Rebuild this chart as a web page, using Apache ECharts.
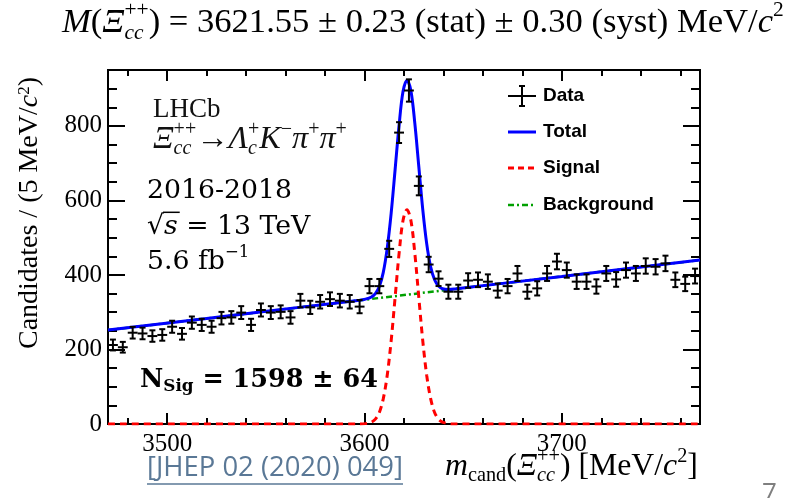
<!DOCTYPE html>
<html>
<head>
<meta charset="utf-8">
<script src="https://cdn.jsdelivr.net/npm/echarts@6/dist/echarts.min.js"></script>
<style>
html, body { margin: 0; padding: 0; background: #fff; }
#main { width: 786px; height: 498px; }
</style>
</head>
<body>
<div id="main"></div>
<script>
// 5 MeV bins, candidates per bin
var binCenters = [
    3472.5, 3477.5, 3482.5, 3487.5, 3492.5, 3497.5, 3502.5, 3507.5, 3512.5, 3517.5,
    3522.5, 3527.5, 3532.5, 3537.5, 3542.5, 3547.5, 3552.5, 3557.5, 3562.5, 3567.5,
    3572.5, 3577.5, 3582.5, 3587.5, 3592.5, 3597.5, 3602.5, 3607.5, 3612.5, 3617.5,
    3622.5, 3627.5, 3632.5, 3637.5, 3642.5, 3647.5, 3652.5, 3657.5, 3662.5, 3667.5,
    3672.5, 3677.5, 3682.5, 3687.5, 3692.5, 3697.5, 3702.5, 3707.5, 3712.5, 3717.5,
    3722.5, 3727.5, 3732.5, 3737.5, 3742.5, 3747.5, 3752.5, 3757.5, 3762.5, 3767.5
];
var counts = [
    212, 206, 245, 243, 236, 239, 261, 242, 272, 266,
    261, 284, 286, 299, 266, 306, 299, 301, 286, 331,
    313, 328, 335, 331, 328, 315, 370, 370, 470, 782,
    895, 639, 428, 390, 355, 355, 385, 387, 382, 358,
    370, 404, 355, 364, 404, 436, 413, 382, 382, 369,
    404, 388, 413, 404, 424, 422, 431, 387, 376, 397
];

// fit curves
var totalX = [3470, 3520, 3570, 3597.5, 3600.5, 3603.5, 3605.5, 3607.5, 3609.5, 3611.5, 3613.5, 3615.5, 3617.5,
    3619.5, 3621.5, 3623.5, 3625.5, 3627.5, 3629.5, 3631.5, 3633.5, 3635.5, 3637.5, 3639.5, 3642.5, 3646.5, 3700, 3770];
var totalY = [252, 283, 315, 332, 335, 341, 350, 369, 407, 472, 566, 683, 801,
    892, 922, 894, 806, 691, 576, 484, 422, 387, 370, 363, 361, 363, 396, 440];
var signalX = [3470, 3597.5, 3600.5, 3603.5, 3605.5, 3607.5, 3609.5, 3611.5, 3613.5, 3615.5, 3617.5, 3619.5,
    3621.5, 3623.5, 3625.5, 3627.5, 3629.5, 3631.5, 3633.5, 3635.5, 3637.5, 3639.5, 3642.5, 3645.5, 3770];
var signalY = [0, 0, 1, 5, 13, 31, 68, 131, 224, 340, 457, 546,
    575, 546, 457, 340, 224, 131, 68, 31, 13, 5, 1, 0, 0];
var bkgX = [3470, 3770];
var bkgY = [252, 440];

// ticks
var xMajor = [3500, 3600, 3700];
var xMinor = [3480, 3520, 3540, 3560, 3580, 3620, 3640, 3660, 3680, 3720, 3740, 3760];
var yMajor = [0, 200, 400, 600, 800];
var yMinor = [50, 100, 150, 250, 300, 350, 450, 500, 550, 650, 700, 750, 850, 900];

var SERIF = '"Liberation Serif", "Times New Roman", serif';
var CAMB = '"DejaVu Serif", serif';
var SANS = '"Liberation Sans", Arial, sans-serif';

function zip(a, b) {
    return a.map(function (v, i) { return [v, b[i]]; });
}

// text measuring for the hand-set labels
var mctx = document.createElement('canvas').getContext('2d');
function tw(t, font) { mctx.font = font; return mctx.measureText(t).width; }
function fnt(style, size, fam) { return (style ? style + ' ' : '') + size + 'px ' + fam; }

function txt(x, y, t, font, color) {
    return { type: 'text', x: x, y: y, z: 20,
        style: { text: t, font: font, fill: color || '#000', align: 'left', verticalAlign: 'middle' } };
}
function rowWidth(parts) {
    var w = 0;
    parts.forEach(function (p) {
        if (p.t != null) w += tw(p.t, p.font);
        else w += Math.max(p.sup ? tw(p.sup, p.font) : 0, p.sub ? tw(p.sub, p.subFont || p.font) : 0);
    });
    return w;
}
function row(x, y, parts, color, out) {
    parts.forEach(function (p) {
        if (p.t != null) {
            out.push(txt(x, y + (p.dy || 0), p.t, p.font, color));
            x += tw(p.t, p.font);
        } else {
            var w = 0;
            if (p.sup) { out.push(txt(x, y + p.up, p.sup, p.font, color)); w = Math.max(w, tw(p.sup, p.font)); }
            if (p.sub) { out.push(txt(x, y + p.dn, p.sub, p.subFont || p.font, color)); w = Math.max(w, tw(p.sub, p.subFont || p.font)); }
            x += w;
        }
    });
    return x;
}
function fitSize(mk, target) {
    var w = rowWidth(mk(20));
    return 20 * target / w;
}

// title
function titleParts(s) {
    var sc = s * 0.62;
    return [
        { t: 'M', font: fnt('italic', s, SERIF) },
        { t: '(', font: fnt('', s, SERIF) },
        { t: 'Ξ', font: fnt('italic', s, SERIF) },
        { sup: '++', font: fnt('', sc, SERIF), up: -0.36 * s, sub: 'cc', subFont: fnt('italic', sc, SERIF), dn: 0.3 * s },
        { t: ') = 3621.55 ± 0.23 (stat) ± 0.30 (syst) MeV/', font: fnt('', s, SERIF) },
        { t: 'c', font: fnt('italic', s, SERIF) },
        { sup: '2', font: fnt('', sc, SERIF), up: -0.36 * s }
    ];
}
// decay
function decayParts(s) {
    var sc = s * 0.62;
    var sup = fnt('', sc, SERIF), sub = fnt('italic', sc, SERIF);
    return [
        { t: 'Ξ', font: fnt('italic', s, SERIF) },
        { sup: '++', font: sup, up: -0.33 * s, sub: 'cc', subFont: sub, dn: 0.28 * s },
        { t: '→', font: fnt('', s, SERIF) },
        { t: 'Λ', font: fnt('italic', s, SERIF) },
        { sup: '+', font: sup, up: -0.33 * s, sub: 'c', subFont: sub, dn: 0.28 * s },
        { t: 'K', font: fnt('italic', s, SERIF) },
        { sup: '−', font: sup, up: -0.33 * s },
        { t: 'π', font: fnt('italic', s, SERIF) },
        { sup: '+', font: sup, up: -0.33 * s },
        { t: 'π', font: fnt('italic', s, SERIF) },
        { sup: '+', font: sup, up: -0.33 * s }
    ];
}
function nsigParts(s) {
    return [
        { t: 'N', font: fnt('bold', s, CAMB) },
        { sub: 'Sig', subFont: fnt('bold', s * 0.66, CAMB), dn: 0.25 * s },
        { t: ' = 1598 ± 64', font: fnt('bold', s, CAMB) }
    ];
}
function xNameParts(s) {
    var sc = s * 0.64;
    return [
        { t: 'm', font: fnt('italic', s, SERIF) },
        { sub: 'cand', subFont: fnt('', sc, SERIF), dn: 0.26 * s },
        { t: '(', font: fnt('', s, SERIF) },
        { t: 'Ξ', font: fnt('italic', s, SERIF) },
        { sup: '++', font: fnt('', sc, SERIF), up: -0.34 * s, sub: 'cc', subFont: fnt('italic', sc, SERIF), dn: 0.28 * s },
        { t: ') [MeV/', font: fnt('', s, SERIF) },
        { t: 'c', font: fnt('italic', s, SERIF) },
        { sup: '2', font: fnt('', sc, SERIF), up: -0.34 * s },
        { t: ']', font: fnt('', s, SERIF) }
    ];
}

var g = [];
var ts = fitSize(titleParts, 722);
row(62, 23, titleParts(ts), '#000', g);

g.push(txt(153, 110, 'LHCb', fnt('', 27, SERIF), '#111'));
var ds = fitSize(decayParts, 194);
row(153, 140, decayParts(ds), '#111', g);

var bs = 20 * 145 / tw('2016-2018', fnt('', 20, CAMB));
g.push(txt(147, 191, '2016-2018', fnt('', bs, CAMB)));
var rx = row(147, 227, [{ t: '√', font: fnt('', bs, CAMB) }], '#000', g);
var sw = tw('s', fnt('italic', bs, CAMB));
g.push({ type: 'line', z: 20, shape: { x1: rx - 1, y1: 227 - bs * 0.55, x2: rx + sw + 2, y2: 227 - bs * 0.55 }, style: { stroke: '#000', lineWidth: 1.5 } });
row(rx, 227, [{ t: 's', font: fnt('italic', bs, CAMB) }, { t: ' = 13 TeV', font: fnt('', bs, CAMB) }], '#000', g);
row(147, 262, [{ t: '5.6 fb', font: fnt('', bs, CAMB) }, { sup: '−1', font: fnt('', bs * 0.62, CAMB), up: -0.36 * bs }], '#000', g);

var ns = fitSize(nsigParts, 238);
row(140, 380, nsigParts(ns), '#000', g);

var xs = fitSize(xNameParts, 253);
row(445, 467, xNameParts(xs), '#000', g);

// y axis title
g.push({
    type: 'text', x: 30, y: 213, rotation: Math.PI / 2, z: 20,
    style: {
        text: 'Candidates / (5 MeV/{i|c}{s|2})',
        fontSize: 28, fontFamily: SERIF, fill: '#000', align: 'center', verticalAlign: 'middle',
        rich: {
            i: { fontSize: 28, fontFamily: SERIF, fontStyle: 'italic' },
            s: { fontSize: 17, fontFamily: SERIF, verticalAlign: 'top', lineHeight: 17 }
        }
    }
});

// legend
var LX1 = 508, LX2 = 536;
g.push({ type: 'line', z: 20, shape: { x1: LX1, y1: 96, x2: LX2, y2: 96 }, style: { stroke: '#000', lineWidth: 2 } });
g.push({ type: 'line', z: 20, shape: { x1: 522, y1: 86, x2: 522, y2: 106 }, style: { stroke: '#000', lineWidth: 2 } });
g.push({ type: 'line', z: 20, shape: { x1: 519, y1: 86, x2: 525, y2: 86 }, style: { stroke: '#000', lineWidth: 2 } });
g.push({ type: 'line', z: 20, shape: { x1: 519, y1: 106, x2: 525, y2: 106 }, style: { stroke: '#000', lineWidth: 2 } });
g.push({ type: 'line', z: 20, shape: { x1: LX1, y1: 132, x2: LX2, y2: 132 }, style: { stroke: '#0000ff', lineWidth: 3 } });
g.push({ type: 'line', z: 20, shape: { x1: LX1, y1: 168, x2: LX2, y2: 168 }, style: { stroke: '#ff0000', lineWidth: 3, lineDash: [6, 4] } });
g.push({ type: 'line', z: 20, shape: { x1: LX1, y1: 205, x2: LX2, y2: 205 }, style: { stroke: '#00a000', lineWidth: 2.5, lineDash: [6, 3, 2, 3] } });
var legNames = ['Data', 'Total', 'Signal', 'Background'];
var legY = [96, 132, 168, 205];
legNames.forEach(function (n, i) { g.push(txt(543, legY[i], n, fnt('bold', 19, SANS))); });

// reference link and page number
var jf = '"Open Sans", "Noto Sans", sans-serif';
var js = 20 * 256 / tw('[JHEP 02 (2020) 049]', fnt('', 20, jf));
g.push(txt(147, 468, '[JHEP 02 (2020) 049]', fnt('', js, jf), '#5a7896'));
g.push({ type: 'line', z: 20, shape: { x1: 147, y1: 484, x2: 403, y2: 484 }, style: { stroke: '#5a7896', lineWidth: 1.5 } });
g.push(txt(762, 494, '7', fnt('', 26, '"Open Sans", sans-serif'), '#7f7f7f'));

function plain(v) { return String(v); }

function xAxisCfg(pos, ticks, len, withLabel) {
    return {
        type: 'value', position: pos, min: 3470, max: 3770,
        axisLine: { show: true, onZero: false, lineStyle: { color: '#000', width: 2 } },
        axisTick: { show: true, inside: true, length: len, customValues: ticks, lineStyle: { color: '#000', width: 2 } },
        axisLabel: withLabel
            ? { show: true, customValues: ticks, formatter: plain, color: '#000', fontFamily: SERIF, fontSize: 25, margin: 8 }
            : { show: false },
        splitLine: { show: false }
    };
}
function yAxisCfg(pos, ticks, len, withLabel) {
    return {
        type: 'value', position: pos, min: 0, max: 950,
        axisLine: { show: true, onZero: false, lineStyle: { color: '#000', width: 2 } },
        axisTick: { show: true, inside: true, length: len, customValues: ticks, lineStyle: { color: '#000', width: 2 } },
        axisLabel: withLabel
            ? { show: true, customValues: ticks, formatter: plain, color: '#000', fontFamily: SERIF, fontSize: 25, margin: 6 }
            : { show: false },
        splitLine: { show: false }
    };
}

function renderErr(params, api) {
    var x = api.value(0), y = api.value(1), e = api.value(2);
    var c = api.coord([x, y]);
    var lo = api.coord([x, y - e]);
    var hi = api.coord([x, y + e]);
    var l = api.coord([x - 2.5, y]);
    var r = api.coord([x + 2.5, y]);
    var st = { stroke: '#000', lineWidth: 2 };
    return {
        type: 'group',
        children: [
            { type: 'line', shape: { x1: l[0], y1: c[1], x2: r[0], y2: c[1] }, style: st },
            { type: 'line', shape: { x1: c[0], y1: lo[1], x2: c[0], y2: hi[1] }, style: st },
            { type: 'line', shape: { x1: c[0] - 3, y1: lo[1], x2: c[0] + 3, y2: lo[1] }, style: st },
            { type: 'line', shape: { x1: c[0] - 3, y1: hi[1], x2: c[0] + 3, y2: hi[1] }, style: st }
        ]
    };
}

var errData = binCenters.map(function (m, i) { return [m, counts[i], Math.sqrt(counts[i])]; });

var chart = echarts.init(document.getElementById('main'), null, { renderer: 'canvas' });
chart.setOption({
    backgroundColor: '#fff',
    animation: false,
    grid: { left: 108, right: 86, top: 70, bottom: 74 },
    xAxis: [
        xAxisCfg('bottom', xMajor, 11, true),
        xAxisCfg('top', xMajor, 11, false),
        xAxisCfg('bottom', xMinor, 6, false),
        xAxisCfg('top', xMinor, 6, false)
    ],
    yAxis: [
        yAxisCfg('left', yMajor, 17, true),
        yAxisCfg('right', yMajor, 17, false),
        yAxisCfg('left', yMinor, 9, false),
        yAxisCfg('right', yMinor, 9, false)
    ],
    graphic: g,
    series: [
        {
            type: 'line', name: 'Background', data: zip(bkgX, bkgY), showSymbol: false, z: 2,
            lineStyle: { color: '#00a000', width: 2.5, type: [6, 3, 2, 3] }
        },
        {
            type: 'line', name: 'Signal', data: zip(signalX, signalY), showSymbol: false, smooth: 0.35, z: 3,
            lineStyle: { color: '#ff0000', width: 3, type: [7, 5] }
        },
        {
            type: 'line', name: 'Total', data: zip(totalX, totalY), showSymbol: false, smooth: 0.35, z: 4,
            lineStyle: { color: '#0000ff', width: 3 }
        },
        {
            type: 'custom', name: 'Data', data: errData, renderItem: renderErr, z: 5,
            encode: { x: 0, y: 1 }
        }
    ]
});
</script>
</body>
</html>
